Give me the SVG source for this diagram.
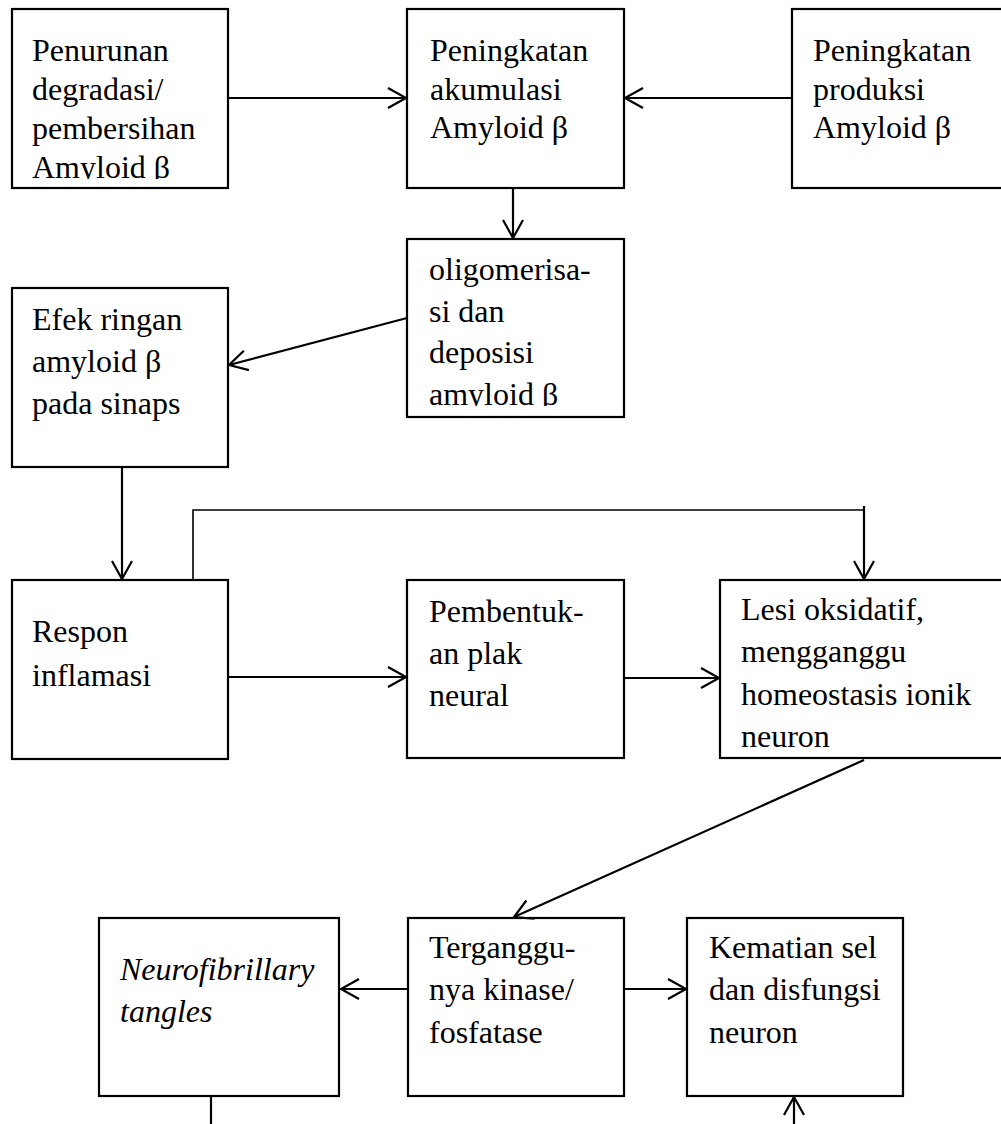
<svg xmlns="http://www.w3.org/2000/svg" width="1001" height="1124" viewBox="0 0 1001 1124">
<style>
.box{fill:#fff;stroke:#000;stroke-width:2.2}
.t{font-family:"Liberation Serif","Times New Roman",serif;font-size:32px;fill:#000}
.i{font-style:italic}
.c{fill:none;stroke:#000;stroke-width:2.2}
.thin{fill:none;stroke:#000;stroke-width:1.6}
</style>
<defs>
<marker id="ah" markerUnits="userSpaceOnUse" markerWidth="24" markerHeight="24" viewBox="-20 -12 22 24" refX="0" refY="0" orient="auto">
<path d="M-18,-10 L0,0 L-18,10" fill="none" stroke="#000" stroke-width="2.2"/>
</marker>
<clipPath id="clip1"><rect x="12" y="9" width="216" height="170"/></clipPath>
<clipPath id="clip4"><rect x="407" y="239" width="217" height="167"/></clipPath>
</defs>
<rect width="1001" height="1124" fill="#fff"/>
<g id="n1">
<rect class="box" x="12" y="9" width="216" height="179"/>
<g clip-path="url(#clip1)">
<text class="t" x="32" y="61">Penurunan</text>
<text class="t" x="32" y="100">degradasi/</text>
<text class="t" x="32" y="139">pembersihan</text>
<text class="t" x="32" y="178">Amyloid β</text>
</g>
</g>
<g id="n2">
<rect class="box" x="407" y="9" width="217" height="179"/>
<text class="t" x="430" y="61">Peningkatan</text>
<text class="t" x="430" y="100">akumulasi</text>
<text class="t" x="430" y="138">Amyloid β</text>
</g>
<g id="n3">
<rect class="box" x="792" y="9" width="230" height="179"/>
<text class="t" x="813" y="61">Peningkatan</text>
<text class="t" x="813" y="100">produksi</text>
<text class="t" x="813" y="138">Amyloid β</text>
</g>
<g id="n4">
<rect class="box" x="407" y="239" width="217" height="178"/>
<g clip-path="url(#clip4)">
<text class="t" x="429" y="280">oligomerisa-</text>
<text class="t" x="429" y="322">si dan</text>
<text class="t" x="429" y="363">deposisi</text>
<text class="t" x="429" y="405">amyloid β</text>
</g>
</g>
<g id="n5">
<rect class="box" x="12" y="288" width="216" height="179"/>
<text class="t" x="32" y="330">Efek ringan</text>
<text class="t" x="32" y="372">amyloid β</text>
<text class="t" x="32" y="414">pada sinaps</text>
</g>
<g id="n6">
<rect class="box" x="12" y="580" width="216" height="179"/>
<text class="t" x="32" y="642">Respon</text>
<text class="t" x="32" y="686">inflamasi</text>
</g>
<g id="n7">
<rect class="box" x="407" y="580" width="217" height="178"/>
<text class="t" x="429" y="622">Pembentuk-</text>
<text class="t" x="429" y="664">an plak</text>
<text class="t" x="429" y="706">neural</text>
</g>
<g id="n8">
<rect class="box" x="720" y="580" width="300" height="178"/>
<text class="t" x="741" y="620">Lesi oksidatif,</text>
<text class="t" x="741" y="662">mengganggu</text>
<text class="t" x="741" y="705">homeostasis ionik</text>
<text class="t" x="741" y="747">neuron</text>
</g>
<g id="n9">
<rect class="box" x="99" y="918" width="240" height="178"/>
<text class="t i" x="120" y="980">Neurofibrillary</text>
<text class="t i" x="120" y="1022">tangles</text>
</g>
<g id="n10">
<rect class="box" x="408" y="918" width="216" height="178"/>
<text class="t" x="429" y="958">Terganggu-</text>
<text class="t" x="429" y="1000">nya kinase/</text>
<text class="t" x="429" y="1043">fosfatase</text>
</g>
<g id="n11">
<rect class="box" x="687" y="918" width="216" height="178"/>
<text class="t" x="709" y="958">Kematian sel</text>
<text class="t" x="709" y="1000">dan disfungsi</text>
<text class="t" x="709" y="1043">neuron</text>
</g>
<g id="connectors">
<line class="c" x1="228" y1="98" x2="406" y2="98" marker-end="url(#ah)"/>
<line class="c" x1="792" y1="98" x2="625" y2="98" marker-end="url(#ah)"/>
<line class="c" x1="513" y1="188" x2="513" y2="238" marker-end="url(#ah)"/>
<line class="c" x1="407" y1="318" x2="229" y2="365" marker-end="url(#ah)"/>
<line class="c" x1="122" y1="467" x2="122" y2="579" marker-end="url(#ah)"/>
<polyline class="thin" points="193,580 193,510 864,510"/>
<line class="c" x1="864" y1="506" x2="864" y2="579" marker-end="url(#ah)"/>
<line class="c" x1="228" y1="677" x2="406" y2="677" marker-end="url(#ah)"/>
<line class="c" x1="624" y1="678" x2="719" y2="678" marker-end="url(#ah)"/>
<line class="c" x1="864" y1="760" x2="514" y2="917" marker-end="url(#ah)"/>
<line class="c" x1="408" y1="989" x2="341" y2="989" marker-end="url(#ah)"/>
<line class="c" x1="624" y1="989" x2="686" y2="989" marker-end="url(#ah)"/>
<line class="c" x1="211" y1="1096" x2="211" y2="1124"/>
<line class="c" x1="794" y1="1124" x2="794" y2="1097" marker-end="url(#ah)"/>
</g>
</svg>
